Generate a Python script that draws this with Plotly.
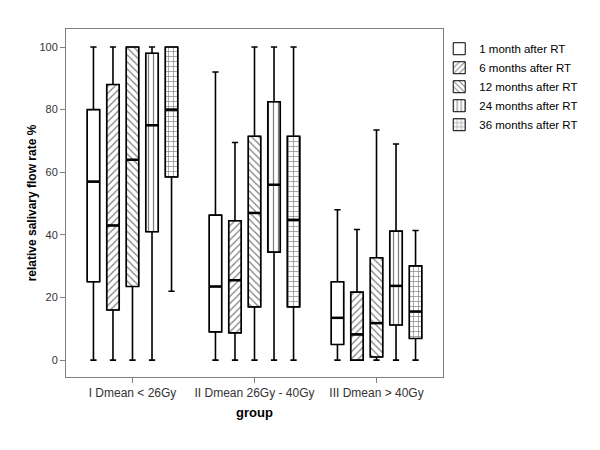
import plotly.graph_objects as go

groups = ["I Dmean < 26Gy", "II Dmean 26Gy - 40Gy", "III Dmean > 40Gy"]
series = ["1 month after RT", "6 months after RT", "12 months after RT",
          "24 months after RT", "36 months after RT"]
patterns = ["", "/", "\\", "|", "+"]

# per series: values for the three groups
lower = [[0, 0, 0], [0, 0, 0], [0, 0, 0], [0, 0, 0], [22, 0, 0]]
q1 = [[25, 9, 5], [16, 8.7, 0], [23.5, 17, 1], [41, 34.5, 11.2], [58.5, 17, 6.9]]
median = [[57, 23.5, 13.5], [43, 25.5, 8.2], [64, 47, 11.8], [75, 56, 23.7], [80, 44.8, 15.5]]
q3 = [[80, 46.3, 25], [88, 44.5, 21.7], [100, 71.5, 32.7], [98, 82.5, 41.2], [100, 71.5, 30.1]]
upper = [[100, 92, 48], [100, 69.5, 41.7], [100, 100, 73.5], [100, 100, 69], [100, 100, 41.4]]

yticks = [0, 20, 40, 60, 80, 100]

fig = go.Figure()

# patterned box bodies (also provide the legend swatches)
for i, name in enumerate(series):
    fig.add_trace(go.Bar(
        x=groups, base=q1[i], y=[b - a for a, b in zip(q1[i], q3[i])],
        name=name, offsetgroup=str(i), alignmentgroup="bars",
        marker=dict(color="white", line=dict(color="black", width=1),
                    pattern=dict(shape=patterns[i], fgcolor="black", bgcolor="white",
                                 size=5, solidity=0.25)),
        hoverinfo="skip"))

# thick median strokes
for i, name in enumerate(series):
    fig.add_trace(go.Bar(
        x=groups, base=[m - 0.4 for m in median[i]], y=[0.8] * len(groups),
        offsetgroup=str(i), alignmentgroup="bars",
        marker=dict(color="black", line=dict(width=0)),
        showlegend=False, hoverinfo="skip"))

# box outlines & whiskers
for i, name in enumerate(series):
    fig.add_trace(go.Box(
        x=groups, q1=q1[i], median=median[i], q3=q3[i],
        lowerfence=lower[i], upperfence=upper[i], name=name,
        offsetgroup=str(i), alignmentgroup="boxes",
        orientation="v", boxpoints=False, fillcolor="rgba(0,0,0,0)",
        line=dict(color="black", width=1.6), whiskerwidth=0.5,
        showlegend=False))

fig.update_layout(
    width=600, height=450,
    margin=dict(l=66, r=157, t=29, b=73),
    plot_bgcolor="white", paper_bgcolor="white",
    barmode="group", bargap=0.2, bargroupgap=0.36,
    boxmode="group", boxgap=0.2, boxgroupgap=0.36,
    font=dict(family="Liberation Sans, Arial, sans-serif", size=12, color="black"),
    legend=dict(x=0.99, y=0.985, xanchor="left", yanchor="top",
                font=dict(size=11.5), bgcolor="rgba(0,0,0,0)", traceorder="normal"),
    xaxis=dict(range=[-0.545, 2.545], showline=True, mirror=True, linecolor="#808080",
               ticks="outside", ticklen=5, tickcolor="#808080", showgrid=False,
               tickfont=dict(size=12, color="#333333"),
               title=dict(text="<b>group</b>", font=dict(size=13), standoff=8)),
    yaxis=dict(range=[-5.4, 105.75], tickvals=yticks, showline=True, mirror=True,
               linecolor="#808080", ticks="outside", ticklen=5, tickcolor="#808080",
               showgrid=False, zeroline=False, tickfont=dict(size=11, color="#333333"),
               title=dict(text="<b>relative salivary flow rate %</b>", font=dict(size=12),
                          standoff=0)),
)

fig.write_html("out.html", config={"displayModeBar": False},
               post_script="document.body.style.margin='0';")
